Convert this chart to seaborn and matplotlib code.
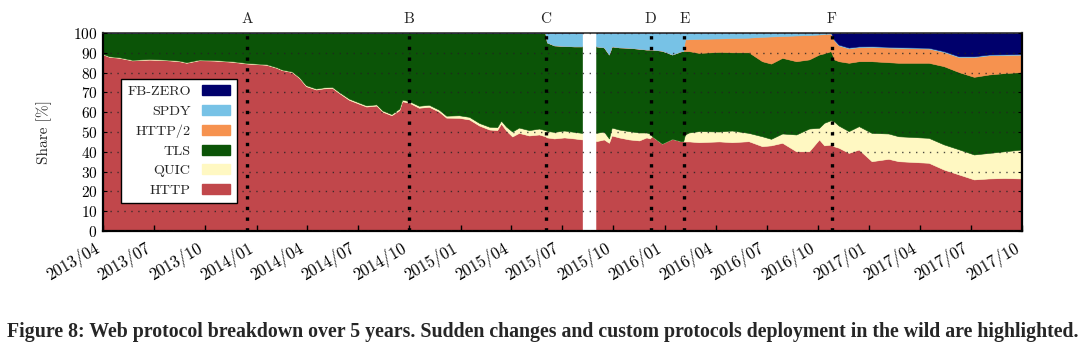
import numpy as np
import pandas as pd
import matplotlib
matplotlib.use("Agg")
import matplotlib.pyplot as plt
import matplotlib.dates as mdates
from matplotlib.patches import Patch
from matplotlib.transforms import blended_transform_factory
import seaborn as sns

nan = float("nan")

# ---------------- data (shares in %) ----------------
dates = ["2013-04-01","2013-04-13","2013-05-01","2013-05-24","2013-06-24","2013-07-24","2013-08-16","2013-08-29",
         "2013-09-21","2013-10-18","2013-11-19","2013-12-16","2014-01-19","2014-02-06","2014-02-16","2014-03-06",
         "2014-03-19","2014-03-31","2014-04-18","2014-05-02","2014-05-17","2014-05-29","2014-06-16","2014-07-04",
         "2014-07-17","2014-08-04","2014-08-15","2014-08-31","2014-09-14","2014-09-19","2014-10-02","2014-10-19",
         "2014-11-06","2014-11-24","2014-12-07","2014-12-30","2015-01-17","2015-02-04","2015-02-22","2015-03-08",
         "2015-03-15","2015-03-24","2015-04-04","2015-04-16","2015-05-04","2015-05-22",
         "2015-06-02","2015-06-05","2015-06-18","2015-07-06","2015-07-24","2015-08-07","2015-08-20","2015-09-01",
         "2015-09-15","2015-09-24","2015-09-29","2015-10-12","2015-10-30","2015-11-17","2015-11-30","2015-12-06",
         "2015-12-10","2015-12-28","2016-01-15","2016-01-31","2016-02-04","2016-02-07","2016-02-14","2016-03-03",
         "2016-04-08","2016-05-01","2016-05-31","2016-06-24","2016-07-10","2016-07-30","2016-08-24","2016-09-16",
         "2016-10-04","2016-10-13","2016-10-25",
         "2016-10-31","2016-11-08","2016-11-26","2016-12-14","2017-01-06","2017-02-05","2017-02-23","2017-04-18",
         "2017-05-15","2017-06-11","2017-07-08","2017-08-04","2017-08-31","2017-10-01"]

http = [89.0, 87.7, 87.2, 85.9, 86.3, 86.0, 85.5, 84.7, 86.0, 85.8, 85.2, 84.3, 83.7, 82.2, 81.0, 80.0,
        77.0, 72.9, 71.2, 71.8, 72.0, 69.5, 66.0, 64.0, 62.6, 63.1, 60.0, 58.2, 60.8, 65.3, 64.5, 62.0,
        62.5, 60.0, 57.0, 56.9, 56.1, 53.0, 51.0, 50.7, 54.0, 50.5, 47.5, 49.3, 48.0, 48.5,
        47.6, 47.0, 46.5, 47.0, 46.5, 46.0, nan, 45.1, 46.0, 44.3, 48.0, 47.0, 46.0, 45.5, 47.0, 46.5,
        47.6, 43.9, 46.3, 45.1, 45.0, 45.0, 45.0, 44.6, 45.0, 44.6, 45.1, 42.6, 43.0, 44.3, 40.0, 40.0,
        46.0, 43.0, 43.4,
        42.5, 41.8, 39.2, 40.9, 35.0, 36.2, 35.0, 34.2, 30.8, 28.3, 25.8, 26.3, 26.5, 26.3]

quic = [0.3, 0.3, 0.3, 0.3, 0.3, 0.3, 0.3, 0.3, 0.3, 0.3, 0.3, 0.3, 0.3, 0.3, 0.3, 0.3,
        0.4, 0.5, 0.5, 0.5, 0.5, 0.5, 0.6, 0.6, 0.6, 0.6, 0.6, 0.6, 0.8, 0.8, 0.8, 1.0,
        1.0, 1.0, 1.0, 1.3, 1.3, 1.3, 1.4, 1.5, 1.5, 2.0, 2.5, 2.7, 2.7, 3.0,
        3.1, 3.3, 3.3, 3.5, 3.3, 3.3, nan, 4.2, 4.0, 2.2, 4.0, 4.0, 4.2, 4.0, 2.5, 2.5,
        0.0, 0.0, 0.0, 0.0, 0.2, 3.5, 4.5, 5.6, 5.0, 5.9, 4.2, 5.0, 3.3, 4.7, 8.5, 11.5,
        5.9, 11.4, 12.3,
        12.5, 11.2, 11.0, 11.8, 14.3, 12.8, 12.6, 12.6, 12.7, 12.7, 12.6, 12.9, 13.5, 14.6]

tls = [10.7, 12.0, 12.5, 13.8, 13.4, 13.7, 14.2, 15.0, 13.7, 13.9, 14.5, 15.4, 16.0, 17.5, 18.7, 19.7,
       22.6, 26.6, 28.3, 27.7, 27.5, 30.0, 33.4, 35.4, 36.8, 36.3, 39.4, 41.2, 38.4, 33.9, 34.7, 37.0,
       36.5, 39.0, 42.0, 41.8, 42.6, 45.7, 47.6, 47.8, 44.5, 47.5, 50.0, 48.0, 49.3, 48.5,
       49.3, 44.7, 43.7, 42.7, 43.2, 43.7, nan, 43.7, 42.5, 42.4, 41.0, 41.5, 42.1, 42.3, 41.9, 42.4,
       43.8, 46.9, 42.6, 45.4, 45.4, 42.1, 41.1, 39.5, 40.2, 39.5, 40.7, 37.9, 38.0, 38.2, 37.0, 34.9,
       37.0, 35.1, 34.9,
       31.4, 32.5, 34.5, 32.8, 36.2, 36.0, 37.1, 37.9, 39.5, 39.0, 39.2, 39.6, 39.5, 39.1]

http2 = ([0.0] * 52 + [nan] + [0.0] * 14 +
         [5.9, 6.0, 7.1, 6.8, 7.2, 7.4, 12.3, 13.7, 11.0, 13.0, 12.3, 10.1, 9.7, 8.9] +
         [9.6, 8.0, 7.3, 7.1, 7.2, 7.4, 7.5, 7.2, 7.2, 7.6, 10.0, 9.7, 9.1, 8.8])

spdy = ([0.0] * 47 +
        [5.0, 6.5, 6.8, 7.0, 7.0, nan, 7.0, 7.5, 11.1, 7.0, 7.5, 7.7, 8.2, 8.6, 8.6] +
        [8.6, 9.2, 11.1, 9.5, 9.4, 3.5, 3.4, 3.2, 3.0, 2.8, 2.6, 2.2, 2.0, 1.8, 1.5, 1.3, 1.0, 0.8, 0.5] +
        [0.4] * 14)

fbzero = ([0.0] * 52 + [nan] + [0.0] * 28 +
          [3.6, 6.1, 7.6, 7.0, 6.9, 7.2, 7.4, 7.7, 9.4, 12.0, 12.0, 11.1, 11.0, 10.8])

protocols = ["HTTP", "QUIC", "TLS", "HTTP/2", "SPDY", "FB-ZERO"]
colors = ["#c1474b", "#fff8c2", "#0b5407", "#f6924f", "#77c2e6", "#00006c"]

event_labels = ["A", "B", "C", "D", "E", "F"]
event_dates = ["2013-12-15", "2014-10-01", "2015-06-02", "2015-12-07", "2016-02-05", "2016-10-26"]

caption = ("Figure 8: Web protocol breakdown over 5 years. Sudden changes and custom "
           "protocols deployment in the wild are highlighted.")

# ---------------- style ----------------
sns.set_theme(style="ticks")
plt.rcParams["font.family"] = ["cmr10", "DejaVu Serif"]
plt.rcParams["axes.formatter.use_mathtext"] = True
plt.rcParams["mathtext.fontset"] = "cm"

W, H = 1086, 364
fig = plt.figure(figsize=(W / 100, H / 100), dpi=100)
ax = fig.add_axes([103 / W, 1 - 231 / H, (1022 - 103) / W, (231 - 33) / H])

x = pd.to_datetime(dates)
ax.stackplot(x, http, quic, tls, http2, spdy, fbzero, colors=colors,
             linewidth=0.4, edgecolor="face", zorder=1)

ax.set_xlim(pd.Timestamp("2013-04-01"), pd.Timestamp("2017-10-01"))
ax.set_ylim(0, 100)
ax.set_yticks(np.arange(0, 101, 10))
ax.xaxis.set_major_locator(mdates.MonthLocator(bymonth=[1, 4, 7, 10]))
ax.xaxis.set_major_formatter(mdates.DateFormatter("%Y/%m"))

ax.tick_params(axis="x", direction="in", length=4, width=1, labelsize=12, pad=6, colors="black")
ax.tick_params(axis="y", direction="in", length=3, width=0.8, labelsize=11, pad=4,
               left=True, right=True, colors="black")
for lab in ax.get_xticklabels():
    lab.set_rotation(30)
    lab.set_ha("right")
    lab.set_rotation_mode("default")

ax.grid(axis="y", color="#222222", linestyle=(0, (1, 4)), linewidth=1.0, alpha=0.8)
ax.grid(axis="x", visible=False)
ax.set_axisbelow(False)
for s in ["left", "bottom", "right"]:
    ax.spines[s].set_color("black")
    ax.spines[s].set_linewidth(1.6)
ax.spines["top"].set_color("#333333")
ax.spines["top"].set_linewidth(1.2)

ax.set_ylabel("Share [%]", fontsize=11)
ax.yaxis.set_label_coords((52 - 103) / 919, 0.5)

trans = blended_transform_factory(ax.transData, ax.transAxes)
for lab, d in zip(event_labels, event_dates):
    ts = pd.Timestamp(d)
    ax.axvline(ts, color="black", linestyle=(0, (1, 2.2)), linewidth=2.4, zorder=3)
    ax.text(ts, 1.07, lab, transform=trans, ha="center", va="center", fontsize=11)

handles = [Patch(facecolor=c, edgecolor=c, label=p) for p, c in zip(protocols, colors)][::-1]
leg = ax.legend(handles=handles, loc="upper left", bbox_to_anchor=(0.0193, 0.768),
                borderaxespad=0, markerfirst=False, frameon=True, fancybox=False,
                fontsize=10.2, handlelength=2.0, handleheight=0.7, labelspacing=0.47,
                borderpad=0.45, handletextpad=0.8)
leg.get_frame().set_edgecolor("black")
leg.get_frame().set_linewidth(1.0)
leg.get_frame().set_facecolor("white")
leg.get_frame().set_alpha(1)
leg.set_zorder(10)

# caption fitted to the reference width
cap = fig.text(0.5, 1 - 332 / H, caption, ha="center", va="center",
               family=["Liberation Serif", "DejaVu Serif"], fontweight="bold", fontsize=14)
fig.canvas.draw()
r = fig.canvas.get_renderer()
wpx = cap.get_window_extent(r).width
cap.set_fontsize(14 * 1078 / wpx)

fig.savefig("out.png", dpi=100)
